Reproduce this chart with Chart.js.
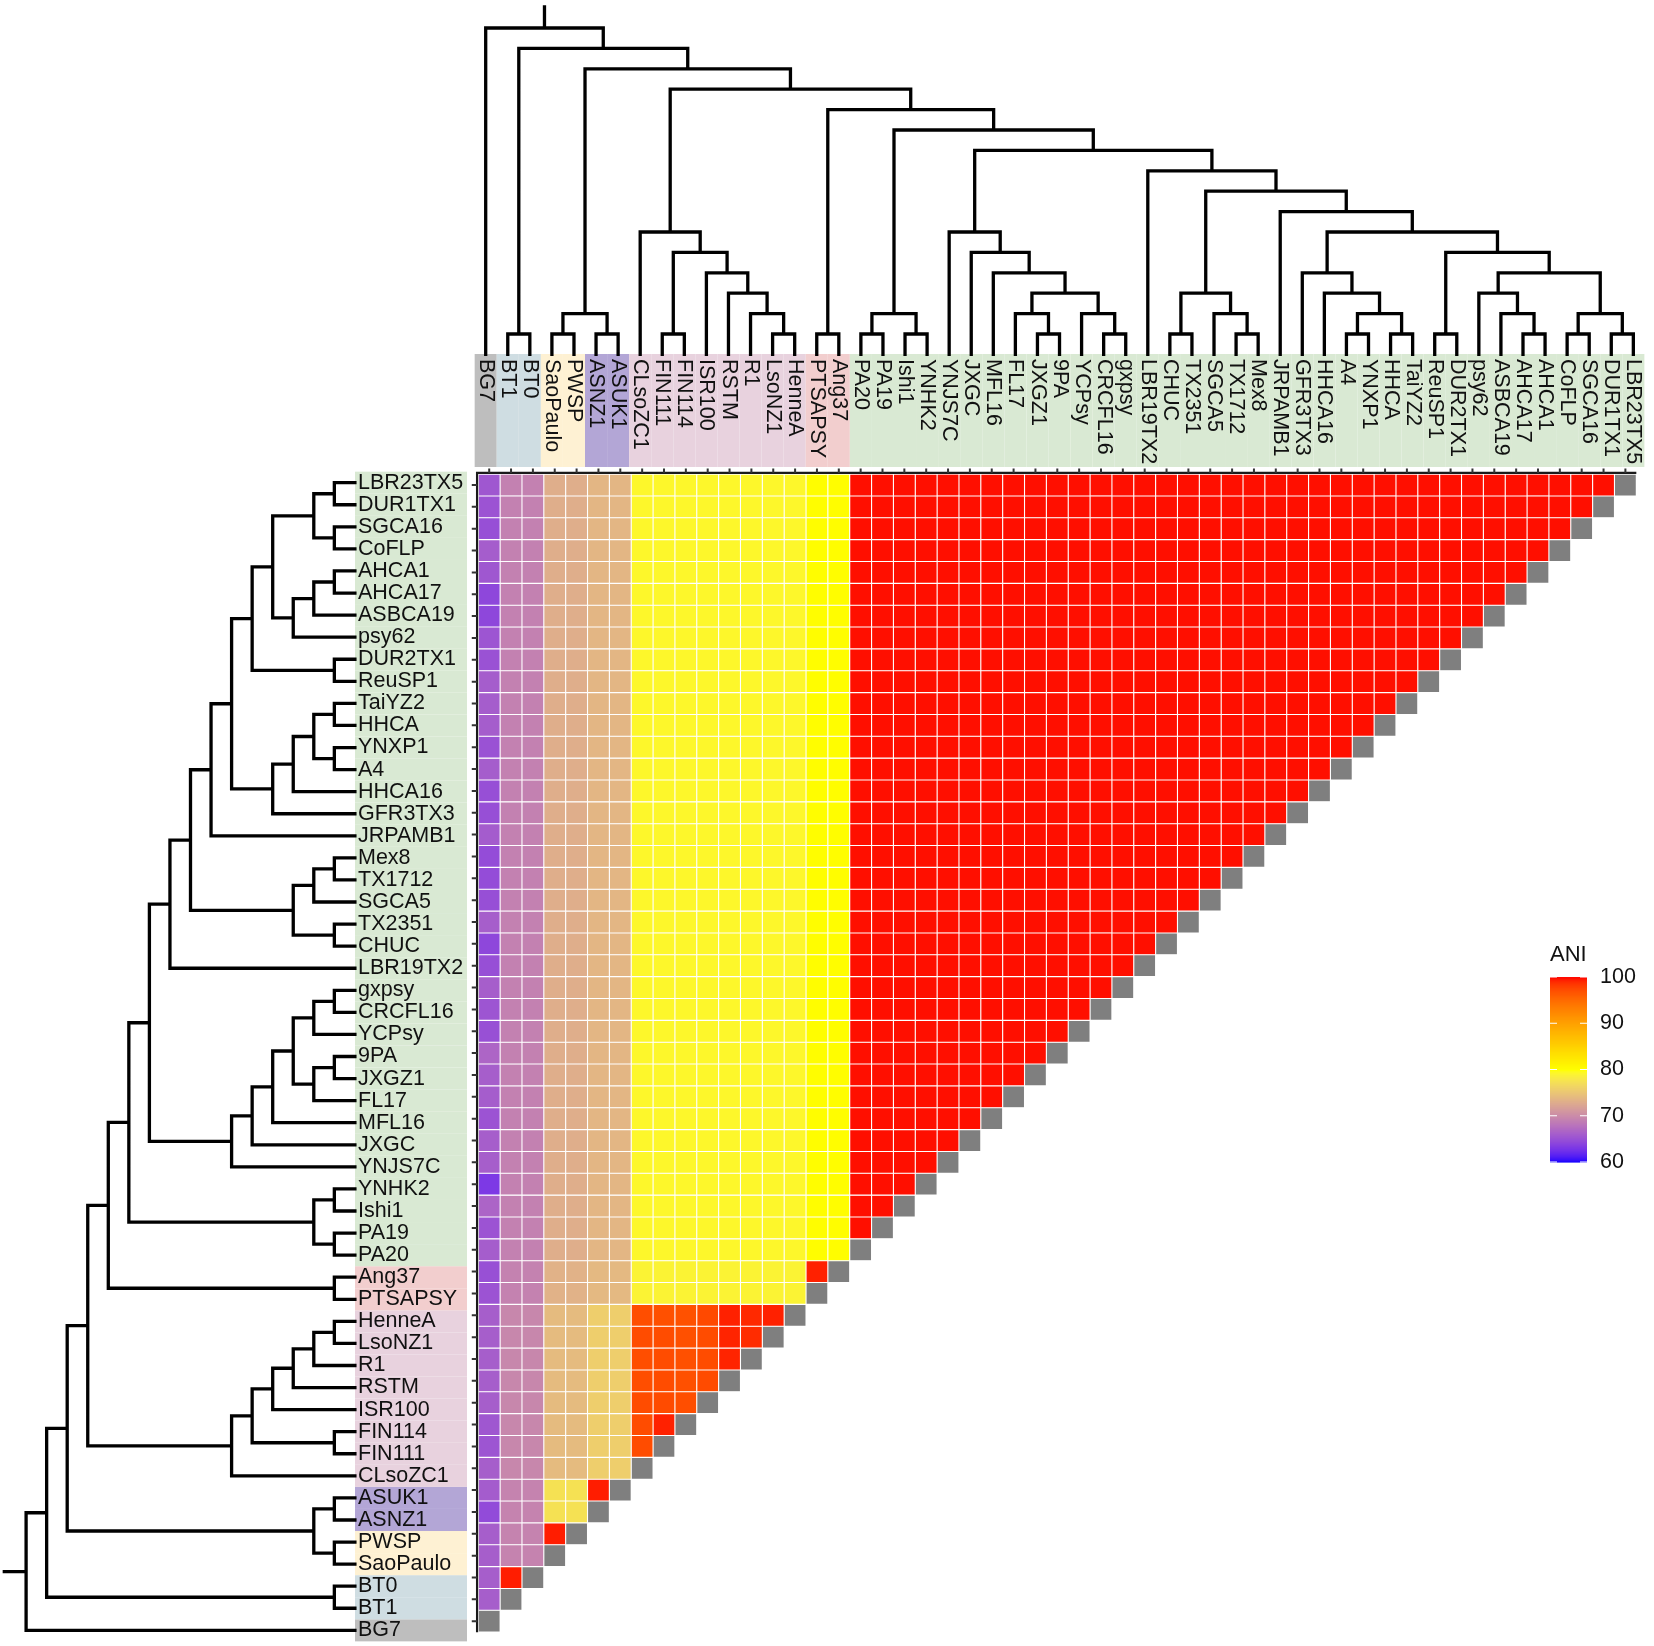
<!DOCTYPE html>
<html>
<head>
<meta charset="utf-8">
<title>ANI heatmap</title>
<script src="https://cdn.jsdelivr.net/npm/chart.js@4.4.0/dist/chart.umd.min.js"></script>
<style>
  html, body { margin: 0; padding: 0; background: #fff; }
  #wrap { width: 1654px; height: 1646px; position: relative; }
</style>
</head>
<body>
<div id="wrap"><canvas id="ani"></canvas></div>
<script>
// leaf order, BG7 first (left on top axis, bottom on left axis)
const leaves = ['BG7','BT1','BT0','SaoPaulo','PWSP','ASNZ1','ASUK1','CLsoZC1','FIN111','FIN114',
  'ISR100','RSTM','R1','LsoNZ1','HenneA','PTSAPSY','Ang37','PA20','PA19','Ishi1','YNHK2','YNJS7C',
  'JXGC','MFL16','FL17','JXGZ1','9PA','YCPsy','CRCFL16','gxpsy','LBR19TX2','CHUC','TX2351','SGCA5',
  'TX1712','Mex8','JRPAMB1','GFR3TX3','HHCA16','A4','YNXP1','HHCA','TaiYZ2','ReuSP1','DUR2TX1',
  'psy62','ASBCA19','AHCA17','AHCA1','CoFLP','SGCA16','DUR1TX1','LBR23TX5'];

// clade of each leaf (index into groupFill)
const leafGroup = [0,1,1,2,2,3,3,4,4,4,4,4,4,4,4,5,5,
  6,6,6,6,6,6,6,6,6,6,6,6,6,6,6,6,6,6,6,6,6,6,6,6,6,6,6,6,6,6,6,6,6,6,6,6];
const groupFill = ['#bebebe','#cfdde2','#fef1d3','#b3a6d6','#e8d2de','#f2cece','#d9e9d3'];

// dendrogram merges: [left, right, level]; strings are leaves, numbers are earlier merges
const treeMerges = [
  ['BT1','BT0',1], ['SaoPaulo','PWSP',1], ['ASNZ1','ASUK1',1], [1,2,2],
  ['FIN111','FIN114',1], ['LsoNZ1','HenneA',1], ['R1',5,2], ['RSTM',6,3], ['ISR100',7,4],
  [4,8,5], ['CLsoZC1',9,6], ['PTSAPSY','Ang37',1], ['PA20','PA19',1], ['Ishi1','YNHK2',1],
  [12,13,2], ['JXGZ1','9PA',1], ['FL17',15,2], ['CRCFL16','gxpsy',1], ['YCPsy',17,2],
  [16,18,3], ['MFL16',19,4], ['JXGC',20,5], ['YNJS7C',21,6], ['CHUC','TX2351',1],
  ['TX1712','Mex8',1], ['SGCA5',24,2], [23,25,3], ['A4','YNXP1',1], ['HHCA','TaiYZ2',1],
  [27,28,2], ['HHCA16',29,3], ['GFR3TX3',30,4], ['ReuSP1','DUR2TX1',1], ['AHCA17','AHCA1',1],
  ['ASBCA19',33,2], ['psy62',34,3], ['CoFLP','SGCA16',1], ['DUR1TX1','LBR23TX5',1],
  [36,37,2], [35,38,4], [32,39,5], [31,40,6], ['JRPAMB1',41,7], [26,42,8],
  ['LBR19TX2',43,9], [22,44,10], [14,45,11], [11,46,12], [10,47,13], [3,48,14],
  [0,49,15], ['BG7',50,16]
];

// ANI against BG7 for leaves 1..52
const bg7Ani = [66.2,66.2,66.2,66.2,64.6,66.0,66.2,65.4,65.6,66.2,66.2,66.2,66.2,66.2,
  65.3,65.0,66.1,65.3,66.7,63.2,66.2,66.2,65.3,66.1,66.2,66.8,65.0,65.4,66.2,64.9,64.3,
  66.2,64.9,64.7,64.7,66.0,64.9,64.9,66.1,65.2,66.1,66.1,66.1,65.2,65.4,64.3,64.3,65.6,
  66.1,64.9,65.3,65.6];

// typical ANI between clades (lower triangle)
const groupAni = [
  [],
  [66.2, 99.5],
  [66.2, 69.4, 99.5],
  [65.5, 69.4, 77.5, 99.5],
  [66.2, 69.7, 74.2, 75.8, 97.3],
  [65.3, 69.3, 73.4, 74.0, 79.0, 99.4],
  [65.5, 69.2, 73.1, 73.8, 79.3, 80.2, 99.8]
];

// ANI inside the haplotype clade, rows FIN111..HenneA, columns CLsoZC1..
const lsoAni = [
  [97.3],
  [97.3, 99.4],
  [97.3, 97.4, 97.2],
  [97.2, 97.3, 97.1, 97.4],
  [97.2, 97.3, 97.1, 97.3, 99.3],
  [97.3, 97.3, 97.1, 97.3, 99.3, 99.0],
  [97.2, 97.1, 97.0, 97.5, 99.4, 99.1, 99.4]
];

const legendTicks = [60, 70, 80, 90, 100];
const colourStops = [[60, [0, 0, 255]], [80, [255, 255, 0]], [100, [255, 0, 0]]];

// colour scale, interpolated in Lab like ggplot's gradientn
function lin(c) { c /= 255; return c <= 0.04045 ? c / 12.92 : Math.pow((c + 0.055) / 1.055, 2.4); }
function gam(c) {
  c = c <= 0.0031308 ? 12.92 * c : 1.055 * Math.pow(c, 1 / 2.4) - 0.055;
  return Math.round(Math.max(0, Math.min(1, c)) * 255);
}
function toLab(rgb) {
  const [r, g, b] = rgb.map(lin);
  const X = (0.4124 * r + 0.3576 * g + 0.1805 * b) / 0.95047;
  const Y = 0.2126 * r + 0.7152 * g + 0.0722 * b;
  const Z = (0.0193 * r + 0.1192 * g + 0.9505 * b) / 1.08883;
  const f = t => t > 0.008856 ? Math.cbrt(t) : 7.787 * t + 16 / 116;
  const fx = f(X), fy = f(Y), fz = f(Z);
  return [116 * fy - 16, 500 * (fx - fy), 200 * (fy - fz)];
}
function fromLab([L, a, b]) {
  const fy = (L + 16) / 116, fx = fy + a / 500, fz = fy - b / 200;
  const fi = t => t > 0.206893 ? t * t * t : (t - 16 / 116) / 7.787;
  const X = fi(fx) * 0.95047, Y = fi(fy), Z = fi(fz) * 1.08883;
  const r = 3.2406 * X - 1.5372 * Y - 0.4986 * Z;
  const g = -0.9689 * X + 1.8758 * Y + 0.0415 * Z;
  const bl = 0.0557 * X - 0.2040 * Y + 1.0570 * Z;
  return 'rgb(' + gam(r) + ',' + gam(g) + ',' + gam(bl) + ')';
}
const labStops = colourStops.map(s => [s[0], toLab(s[1])]);
function aniColor(v) {
  v = Math.max(60, Math.min(100, v));
  for (let k = 0; k < labStops.length - 1; k++) {
    const [v0, l0] = labStops[k], [v1, l1] = labStops[k + 1];
    if (v <= v1) {
      const t = (v - v0) / (v1 - v0);
      return fromLab(l0.map((c, n) => c + (l1[n] - c) * t));
    }
  }
}

function aniValue(i, j) {
  if (j === 0) return bg7Ani[i - 1];
  if (leafGroup[i] === 4 && leafGroup[j] === 4) return lsoAni[i - 8][j - 7];
  return groupAni[leafGroup[i]][leafGroup[j]];
}

// heatmap cells: row i (leaf), column j <= i; the diagonal is grey
const cells = [];
leaves.forEach((name, i) => {
  for (let j = 0; j <= i; j++) {
    cells.push({ x: j, y: [i - 0.5, i + 0.5], v: j === i ? null : aniValue(i, j) });
  }
});

// dendrogram paths
const nodePos = [];
const posOf = r => typeof r === 'string' ? leaves.indexOf(r) : nodePos[r];
const lvlOf = r => typeof r === 'string' ? 0 : treeMerges[r][2];
treeMerges.forEach(([a, b], k) => { nodePos[k] = (posOf(a) + posOf(b)) / 2; });
const topTree = [], leftTree = [];
treeMerges.forEach(([a, b, h]) => {
  const pa = posOf(a), pb = posOf(b), ha = lvlOf(a), hb = lvlOf(b);
  topTree.push({ x: pa, y: ha }, { x: pa, y: h }, { x: pb, y: h }, { x: pb, y: hb }, { x: pb, y: null });
  leftTree.push({ x: ha, y: pa }, { x: h, y: pa }, { x: h, y: pb }, { x: hb, y: pb }, { x: hb, y: null });
});
const rootPos = nodePos[treeMerges.length - 1];
const rootLvl = treeMerges[treeMerges.length - 1][2];
topTree.push({ x: rootPos, y: rootLvl }, { x: rootPos, y: rootLvl + 1.03 });
leftTree.push({ x: rootLvl, y: rootPos }, { x: rootLvl + 1.06, y: rootPos });

const FONT = '"Liberation Sans", Arial, Helvetica, sans-serif';
const INK = '#111111';

const decor = {
  id: 'decor',
  beforeDatasetsDraw(chart) {
    const { ctx } = chart;
    const { xd, yd } = chart.scales;
    ctx.save();
    leaves.forEach((name, i) => {
      ctx.fillStyle = groupFill[leafGroup[i]];
      const x0 = xd.getPixelForValue(i - 0.5), x1 = xd.getPixelForValue(i + 0.5);
      ctx.fillRect(x0, 354, x1 - x0, 113);
      const y0 = yd.getPixelForValue(i + 0.5), y1 = yd.getPixelForValue(i - 0.5);
      ctx.fillRect(355, y0, 112, y1 - y0);
    });
    ctx.restore();
  },
  afterDatasetsDraw(chart) {
    const { ctx } = chart;
    const { x, y, xd, yd } = chart.scales;
    ctx.save();
    // leaf labels
    ctx.fillStyle = INK;
    ctx.font = '21.5px ' + FONT;
    ctx.textAlign = 'left';
    ctx.textBaseline = 'middle';
    leaves.forEach((name, i) => {
      ctx.fillText(name, 358, yd.getPixelForValue(i));
      ctx.save();
      ctx.translate(xd.getPixelForValue(i), 359);
      ctx.rotate(Math.PI / 2);
      ctx.fillText(name, 0, 0);
      ctx.restore();
    });
    // heatmap frame and ticks
    const left = x.getPixelForValue(-0.5), right = x.getPixelForValue(52.5);
    const top = y.getPixelForValue(52.5), bottom = y.getPixelForValue(-0.5);
    ctx.strokeStyle = '#1a1a1a';
    ctx.lineWidth = 2.2;
    ctx.beginPath();
    ctx.moveTo(right, top - 1.2); ctx.lineTo(left - 1.2, top - 1.2); ctx.lineTo(left - 1.2, bottom);
    ctx.stroke();
    ctx.strokeStyle = '#333333';
    ctx.lineWidth = 2;
    ctx.beginPath();
    leaves.forEach((name, i) => {
      const px = x.getPixelForValue(i), py = y.getPixelForValue(i);
      ctx.moveTo(px, top - 5.5); ctx.lineTo(px, top - 1);
      ctx.moveTo(left - 6.5, py); ctx.lineTo(left - 1, py);
    });
    ctx.stroke();
    // colour bar legend
    const bx = 1550, bw = 37, by0 = 977, by1 = 1162;
    const vy = v => by1 - (v - 60) / 40 * (by1 - by0);
    for (let k = 0; k < 185; k++) {
      const v = 60 + (k + 0.5) / 185 * 40;
      ctx.fillStyle = aniColor(v);
      ctx.fillRect(bx, vy(60 + (k + 1) / 185 * 40), bw, (by1 - by0) / 185 + 0.6);
    }
    ctx.strokeStyle = '#ffffff';
    ctx.lineWidth = 1.2;
    ctx.beginPath();
    legendTicks.forEach(t => {
      const ty = vy(t);
      ctx.moveTo(bx, ty); ctx.lineTo(bx + 7, ty);
      ctx.moveTo(bx + bw - 7, ty); ctx.lineTo(bx + bw, ty);
    });
    ctx.stroke();
    ctx.fillStyle = INK;
    ctx.font = '21.5px ' + FONT;
    ctx.textAlign = 'left';
    ctx.textBaseline = 'middle';
    legendTicks.forEach(t => ctx.fillText(String(t), 1600, vy(t)));
    ctx.font = '22px ' + FONT;
    ctx.fillText('ANI', 1550, 955);
    ctx.restore();
  }
};

const hidden = { display: false, bounds: 'data', offset: false, grid: { display: false },
  ticks: { includeBounds: false } };

new Chart(document.getElementById('ani'), {
  type: 'bar',
  data: {
    datasets: [
      {
        type: 'bar',
        data: cells,
        xAxisID: 'x',
        yAxisID: 'y',
        backgroundColor: c => c.raw && c.raw.v != null ? aniColor(c.raw.v) : '#7f7f7f',
        borderColor: '#ffffff',
        borderWidth: 0.55,
        borderSkipped: false,
        inflateAmount: 0,
        grouped: false,
        barPercentage: 1,
        categoryPercentage: 1
      },
      {
        type: 'line',
        data: topTree,
        xAxisID: 'xd',
        yAxisID: 'yh',
        borderColor: '#000000',
        borderWidth: 3.3,
        borderCapStyle: 'square',
        borderJoinStyle: 'miter',
        pointRadius: 0,
        spanGaps: false,
        fill: false,
        tension: 0
      },
      {
        type: 'line',
        data: leftTree,
        xAxisID: 'xh',
        yAxisID: 'yd',
        borderColor: '#000000',
        borderWidth: 3.3,
        borderCapStyle: 'square',
        borderJoinStyle: 'miter',
        pointRadius: 0,
        spanGaps: false,
        fill: false,
        tension: 0
      }
    ]
  },
  options: {
    responsive: true,
    maintainAspectRatio: false,
    animation: false,
    events: [],
    layout: { padding: 0 },
    plugins: { legend: { display: false }, tooltip: { enabled: false } },
    scales: {
      x: { ...hidden, type: 'linear', axis: 'x', min: -22.389, max: 53.309,
        ticks: { includeBounds: false, stepSize: 1 } },
      y: { ...hidden, type: 'linear', axis: 'y', min: -1.135, max: 74.197 },
      xd: { ...hidden, type: 'linear', axis: 'x', min: -22.007, max: 52.936 },
      yd: { ...hidden, type: 'linear', axis: 'y', min: -0.710, max: 73.871 },
      yh: { ...hidden, type: 'linear', axis: 'y', min: -63.313, max: 17.373 },
      xh: { ...hidden, type: 'linear', axis: 'x', reverse: true, min: -63.217, max: 17.270 }
    }
  },
  plugins: [decor]
});
</script>
</body>
</html>
